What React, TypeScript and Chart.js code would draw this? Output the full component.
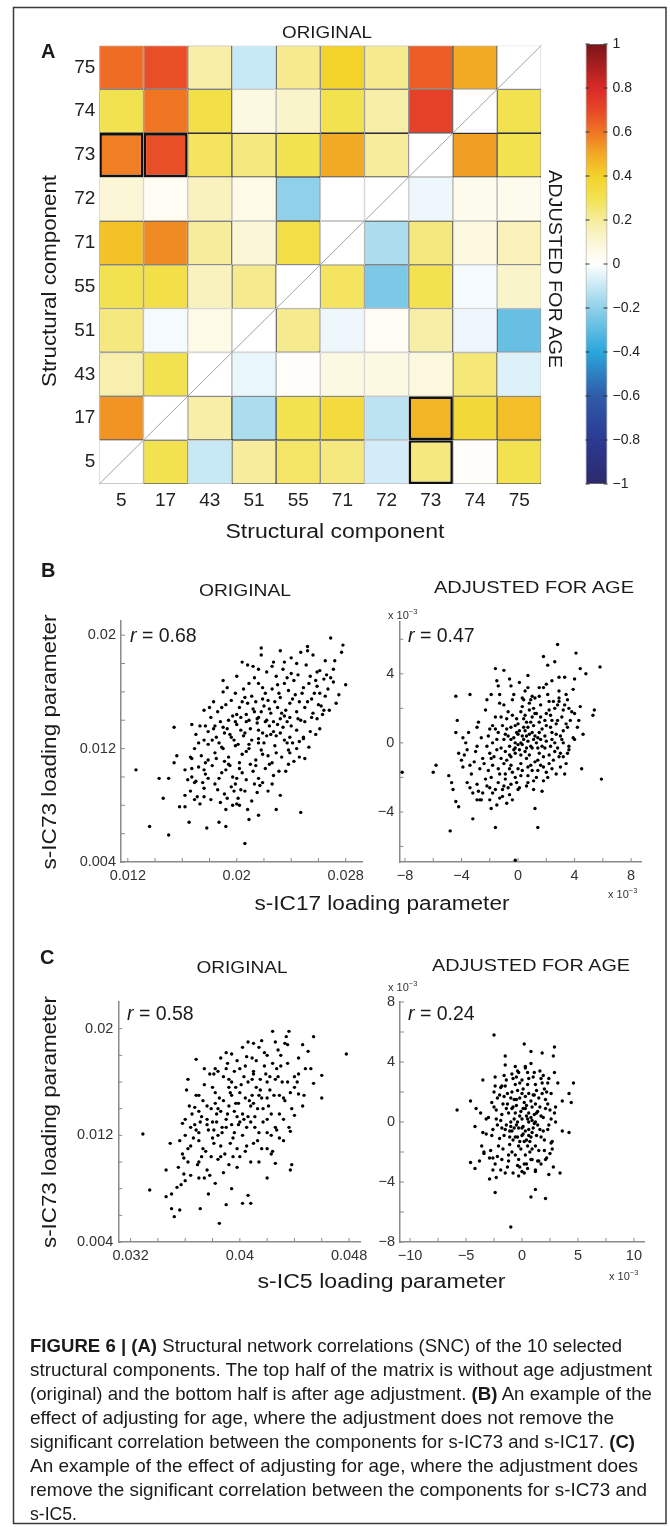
import React, { useEffect, useRef } from 'react';
import { Chart, registerables } from 'chart.js';

Chart.register(...registerables);
const FONT = '"Liberation Sans", Arial, Helvetica, sans-serif';
Chart.defaults.font.family = FONT;
Chart.defaults.color = '#222';

// ---------------- Panel A : correlation matrix ----------------
const colLabels = ['5', '17', '43', '51', '55', '71', '72', '73', '74', '75'];
const rowLabels = ['75', '74', '73', '72', '71', '55', '51', '43', '17', '5']; // top to bottom
const r75 = [0.62, 0.68, 0.18, -0.1, 0.22, 0.4, 0.22, 0.65, 0.5, null];
const r74 = [0.3, 0.6, 0.32, 0.07, 0.12, 0.3, 0.18, 0.72, null, 0.3];
const r73 = [0.58, 0.68, 0.28, 0.24, 0.3, 0.5, 0.2, null, 0.52, 0.3];
const r72 = [0.1, 0.03, 0.14, 0.06, -0.2, 0.0, null, -0.03, 0.05, 0.05];
const r71 = [0.44, 0.56, 0.2, 0.1, 0.32, null, -0.15, 0.24, 0.08, 0.15];
const r55 = [0.3, 0.32, 0.14, 0.22, null, 0.28, -0.24, 0.3, -0.02, 0.12];
const r51 = [0.24, -0.02, 0.06, null, 0.22, -0.03, 0.03, 0.18, -0.03, -0.28];
const r43 = [0.17, 0.3, null, -0.04, 0.01, 0.07, 0.07, 0.08, 0.25, -0.06];
const r17 = [0.54, null, 0.18, -0.15, 0.3, 0.35, -0.12, 0.47, 0.36, 0.45];
const r5 = [null, 0.3, -0.1, 0.2, 0.27, 0.24, -0.08, 0.24, 0.01, 0.3];
const corrRows = [r75, r74, r73, r72, r71, r55, r51, r43, r17, r5];
const highlighted = [['73', '5'], ['73', '17'], ['17', '73'], ['5', '73']];

const cbTickValues = [-1, -0.8, -0.6, -0.4, -0.2, 0, 0.2, 0.4, 0.6, 0.8, 1];
const cbTickLabels = ['−1', '−0.8', '−0.6', '−0.4', '−0.2', '0', '0.2', '0.4', '0.6', '0.8', '1'];
const cmapStops: [number, string][] = [
  [-1.0, '#2c2a6c'], [-0.8, '#2b3a92'], [-0.6, '#2f5ba9'], [-0.4, '#2ba6dc'], [-0.2, '#8fd1ea'],
  [0.0, '#ffffff'], [0.1, '#fbf6d6'], [0.2, '#f6ec9c'], [0.3, '#f3e250'], [0.4, '#f3d22a'],
  [0.5, '#f2a924'], [0.6, '#ef7523'], [0.7, '#e84628'], [0.8, '#d92a27'], [1.0, '#7a1519'],
];

// ---------------- Panel B : s-IC73 vs s-IC17 ----------------
// original values, in units of 1e-3
const bOrigPoints: [number, number][] = [
  [12.6, 10.5], [13.6, 6.5], [15.0, 5.9], [14.3, 9.9], [15.0, 9.9], [14.6, 8.5], [15.4, 13.5], [15.6, 11.5], [15.4, 11.0],
  [15.8, 7.9], [16.2, 7.9], [16.5, 6.8], [16.7, 13.7], [16.7, 11.3], [16.9, 8.4], [16.7, 10.6], [17.0, 9.7], [17.8, 6.4],
  [17.7, 13.6], [17.6, 12.6], [18.3, 13.4], [18.0, 14.9], [19.0, 16.8], [20.6, 5.3], [20.4, 18.1], [21.2, 17.8], [21.8, 19.1],
  [21.6, 7.3], [22.9, 7.7], [23.2, 8.7], [24.7, 7.5], [25.2, 18.9], [26.9, 19.8], [27.8, 19.3], [28.0, 16.5], [27.2, 18.2],
  [27.7, 18.8], [26.1, 13.4], [25.9, 14.1], [26.4, 14.7], [26.5, 15.7], [27.1, 16.7], [19.2, 7.7], [18.7, 6.8], [19.2, 6.5],
  [19.7, 8.0], [20.3, 9.1], [20.8, 7.7], [20.0, 8.1], [20.9, 7.0], [21.7, 9.4], [22.6, 9.5], [23.6, 10.4], [24.2, 11.1],
  [23.9, 11.7], [24.9, 12.8], [24.1, 12.4],
  [22.7, 18.1], [23.4, 17.6], [24.0, 18.4], [24.5, 17.2], [25.1, 17.9], [25.6, 18.6], [26.1, 17.5], [26.5, 18.2], [26.9, 17.0],
  [25.4, 17.1], [24.2, 16.8], [23.7, 17.0], [23.0, 16.5], [25.9, 16.4], [27.1, 17.6], [25.2, 19.2], [24.7, 18.8], [23.2, 18.9],
  [22.2, 17.4], [21.8, 18.6],
  [20.5, 16.2], [21.1, 15.7], [21.6, 16.6], [22.1, 15.9], [22.6, 16.2], [23.2, 15.6], [23.8, 16.1], [24.3, 15.8], [24.9, 16.3],
  [25.5, 15.5], [26.1, 15.9], [26.7, 16.2], [21.3, 17.0], [22.3, 15.4], [23.5, 16.6], [24.6, 15.3], [25.8, 16.8], [19.9, 15.9],
  [19.3, 16.3], [20.8, 15.2], [26.2, 15.0], [27.5, 15.8],
  [18.6, 14.6], [19.2, 15.1], [19.7, 14.3], [20.2, 14.9], [20.7, 14.4], [21.2, 14.8], [21.6, 14.2], [22.0, 15.0], [22.5, 14.5],
  [23.0, 14.9], [23.5, 14.3], [23.9, 15.2], [24.4, 14.6], [25.0, 14.9], [25.5, 14.2], [19.4, 14.0], [20.4, 15.3], [21.4, 15.3],
  [22.2, 14.0], [23.2, 14.1], [24.7, 14.0], [25.2, 15.3], [26.3, 14.4], [18.1, 14.2], [21.8, 14.6], [22.8, 15.3], [20.9, 14.0],
  [17.9, 13.2], [18.5, 12.8], [19.0, 13.5], [19.5, 13.0], [20.0, 13.7], [20.5, 12.9], [21.0, 13.4], [21.5, 13.8], [21.9, 13.1],
  [22.4, 13.6], [22.9, 12.9], [23.4, 13.5], [23.9, 12.8], [24.4, 13.3], [24.9, 12.7], [25.4, 13.2], [18.8, 13.9], [19.8, 12.6],
  [20.7, 13.9], [21.6, 12.7], [22.7, 13.2], [23.7, 13.9], [19.3, 13.4], [20.3, 13.3], [22.1, 13.9], [23.2, 13.1], [18.2, 12.6],
  [16.9, 12.0], [17.4, 11.5], [17.9, 12.3], [18.4, 11.7], [18.9, 12.1], [19.4, 11.4], [19.9, 12.2], [20.4, 11.6], [20.9, 12.3],
  [21.4, 11.2], [21.8, 11.9], [22.3, 11.5], [22.8, 12.2], [23.3, 11.4], [23.8, 11.9], [19.1, 11.1], [20.2, 11.0], [21.6, 12.4],
  [17.7, 11.0], [20.7, 11.8], [22.6, 11.0], [24.4, 12.0], [18.7, 12.4], [17.2, 12.4],
  [16.2, 10.5], [16.7, 10.0], [17.2, 10.7], [17.7, 10.2], [18.2, 10.8], [18.7, 9.9], [19.2, 10.5], [19.7, 10.0], [20.2, 10.6],
  [20.7, 9.8], [21.2, 10.4], [21.6, 9.9], [22.1, 10.6], [22.7, 10.1], [17.5, 9.6], [18.4, 9.5], [19.9, 9.5], [21.0, 10.9],
  [16.9, 9.6], [19.5, 10.8], [21.9, 9.6],
  [16.6, 9.0], [17.1, 8.6], [17.6, 9.2], [18.1, 8.4], [18.6, 9.1], [19.1, 8.8], [19.6, 9.3], [20.1, 8.5], [20.6, 9.0],
  [21.1, 8.3], [21.5, 8.9], [17.3, 8.1], [18.8, 8.2], [20.2, 8.0], [16.2, 8.7],
  [19.0, 12.0], [19.6, 12.8], [20.1, 12.3], [20.6, 13.1], [21.1, 12.6], [21.6, 13.3], [22.0, 12.4], [22.5, 13.0], [23.0, 13.7],
  [23.5, 12.6], [24.0, 13.6], [24.5, 14.1], [25.0, 13.9], [25.6, 14.5], [26.0, 15.1], [20.0, 14.4], [20.6, 15.6], [21.3, 14.6],
  [21.9, 15.5], [22.4, 14.8], [23.1, 15.9], [23.6, 14.7], [24.1, 15.5], [24.8, 15.9], [25.3, 16.6], [25.9, 17.4], [26.4, 16.9],
  [24.0, 17.3], [22.9, 17.1], [21.9, 16.3], [20.9, 16.6], [19.6, 15.4], [18.9, 14.9], [18.4, 13.6], [19.9, 13.9], [20.9, 12.0],
  [21.9, 11.6], [22.9, 11.7], [23.7, 12.4], [24.6, 12.5], [17.9, 11.2], [18.5, 11.3], [19.4, 10.9], [20.4, 10.3], [21.4, 10.8],
  [22.4, 10.9], [20.0, 9.9], [18.9, 10.3], [17.6, 10.5], [22.2, 12.9], [22.7, 13.9], [23.3, 14.5], [21.5, 14.1], [20.3, 14.2],
  [19.1, 13.1], [23.9, 14.2], [25.7, 15.9], [26.6, 17.2], [24.4, 18.0], [23.5, 18.1], [22.6, 17.8], [21.6, 17.6], [20.8, 17.9],
  [20.0, 17.1], [19.0, 16.0], [18.3, 15.3], [17.6, 14.7], [17.3, 13.6], [17.0, 13.0], [16.6, 11.4], [16.4, 9.8], [17.9, 9.9],
  [19.8, 9.0], [21.3, 9.5], [22.3, 9.0], [23.1, 10.4], [23.8, 10.9], [24.6, 11.4], [25.3, 12.1], [25.8, 13.0], [26.8, 14.7],
  [27.3, 15.2], [25.0, 11.3], [19.3, 8.5], [17.6, 8.6],
];
const bOrigXTicks = [0.012, 0.014, 0.016, 0.018, 0.02, 0.022, 0.024, 0.026, 0.028];
const bOrigXLabels = ['0.012', '', '', '', '0.02', '', '', '', '0.028'];
const bOrigYTicks = [0.004, 0.006, 0.008, 0.01, 0.012, 0.014, 0.016, 0.018, 0.02];
const bOrigYLabels = ['0.004', '', '', '', '0.012', '', '', '', '0.02'];

// adjusted for age, in units of 1e-3
const bAdjPoints: [number, number][] = [
  [-8.2, -1.7], [-5.8, -1.3], [-6.0, -1.7], [-4.8, -5.1], [-4.4, 2.7], [-4.3, 1.3], [-4.4, 0.6], [-4.9, -1.9], [-4.7, -2.3],
  [-4.6, -2.7], [-4.4, -3.4], [-4.2, -3.7], [-3.2, -4.4], [-1.6, -4.9], [-1.6, 4.3], [-1.0, 4.2], [-0.6, 3.7], [0.7, 3.9],
  [1.4, -4.9], [1.2, -3.8], [1.8, 5.0], [2.1, 4.5], [2.6, 4.7], [2.8, 5.7], [4.1, 5.2], [4.4, 4.3], [4.8, 4.0], [5.8, 4.4],
  [5.9, -2.1], [4.5, -1.5], [5.3, 1.6], [5.4, 1.9], [4.6, 0.5], [3.9, 3.1], [4.0, 3.7], [3.3, 3.8], [2.9, 3.8], [-0.2, -6.8],
  [-3.4, 2.8], [-2.2, 2.5], [-1.9, 2.8], [-1.5, 3.6], [-1.3, 2.8], [-2.9, 0.9], [-3.7, 0.0], [-3.6, -0.4], [-3.9, -1.4],
  [-2.8, -2.8], [-2.6, -3.3], [-1.9, -3.8], [-1.3, -3.2], [-0.8, -3.5], [-0.4, -3.3], [0.1, -2.6], [1.1, -2.7], [1.7, -2.8],
  [2.7, -1.8], [3.4, -1.2], [-1.4, 3.3], [-0.5, 3.3], [0.1, 3.5], [0.7, 3.2], [1.5, 3.2], [2.0, 3.4], [2.4, 3.6], [2.9, 2.4],
  [3.5, 2.5], [4.4, 2.1], [4.0, 1.7], [-3.4, -2.6], [-2.9, -3.3], [-2.2, -2.5], [-1.8, -2.9], [-1.1, -2.7], [-0.5, -2.4],
  [0.7, -2.3], [1.8, -2.2], [2.4, -1.5], [2.9, -0.8], [3.6, -0.4], [3.2, 0.0], [3.9, 0.3], [4.2, 0.9], [3.4, 1.1],
  [-3.0, -0.5], [-2.6, 0.3], [-2.4, -1.2], [-2.2, -0.2], [-2.0, 0.8], [-1.9, -2.0], [-1.7, -0.8], [-1.6, 1.5], [-1.5, 0.2],
  [-1.4, -1.5], [-1.2, -0.3], [-1.1, 1.0], [-1.0, -2.5], [-0.9, 0.5], [-0.8, -1.0], [-0.7, 1.8], [-0.6, -0.2], [-0.5, 0.9],
  [-0.4, -1.7], [-0.3, 0.3], [-0.2, -0.6], [-0.1, 1.4], [0.0, -0.1], [0.1, 0.7], [0.2, -1.2], [0.3, 2.1], [0.4, 0.2],
  [0.5, -0.5], [0.6, 1.2], [0.7, -1.9], [0.8, 0.5], [0.9, 2.5], [1.0, -0.3], [1.1, 1.0], [1.2, -1.1], [1.3, 1.7], [1.4, 0.3],
  [1.5, -0.6], [1.6, 2.2], [1.7, 0.8], [1.8, -1.4], [1.9, 1.3], [2.0, 0.1], [2.1, 2.8], [2.2, -0.7], [2.3, 1.6], [2.4, 0.6],
  [2.5, -1.0], [2.6, 2.0], [2.7, 1.1], [2.8, -0.3], [2.9, 2.6], [3.0, 0.4], [3.1, 1.5], [3.2, -0.8], [3.3, 2.2], [3.5, 0.9],
  [3.6, -0.2], [3.8, 1.8], [4.0, 0.2],
  [-3.3, -1.8], [-2.9, -2.4], [-2.8, 1.2], [-2.5, -2.9], [-2.3, 1.9], [-2.1, -1.6], [-1.8, 0.0], [-1.6, -2.7], [-1.3, 2.3],
  [-1.2, -0.9], [-0.9, -2.1], [-0.8, 1.4], [-0.6, -3.0], [-0.5, -0.8], [-0.4, 2.5], [-0.2, 0.0], [-0.1, -2.3], [0.1, -0.4],
  [0.2, 1.8], [0.3, -1.6], [0.4, 0.9], [0.5, 3.0], [0.6, -0.9], [0.7, 0.1], [0.8, 1.9], [0.9, -1.3], [1.0, 0.6], [1.1, -2.2],
  [1.2, 2.6], [1.3, 0.0], [1.4, -1.6], [1.5, 1.2], [1.7, -0.2], [1.8, 3.2], [1.9, 0.4], [2.0, -1.7], [2.2, 1.9], [2.3, -0.2],
  [2.5, 2.4], [2.6, 0.0], [2.8, 1.3], [3.0, -1.4], [3.2, 0.7], [3.4, 2.8], [3.5, -0.6], [3.7, 1.3], [-3.5, 0.6], [-3.8, -0.7],
  [-3.2, -2.9], [-2.7, -3.3], [-2.0, -3.3], [-1.5, -3.6], [-1.1, -3.1], [-3.6, -2.3], [-4.0, -1.0], [-3.9, 0.3],
  [-0.7, 0.4], [-0.3, -0.4], [0.0, 0.5], [0.3, -0.1], [0.6, 0.4], [0.9, -0.2], [1.2, 0.4], [-1.0, 0.2], [-0.5, -1.3],
  [0.2, -0.7], [0.5, 1.6], [1.0, 1.5], [1.6, 0.2], [-1.4, 0.6], [-0.2, 1.0], [0.8, -0.7], [1.4, -0.3], [-0.9, -0.5],
  [0.0, -1.5], [0.4, 2.5], [1.1, 2.0], [2.0, 1.0], [-2.0, -0.6], [-1.8, -1.3], [2.4, 0.2], [0.7, -1.4],
  [-2.5, -0.9], [-2.1, 0.4], [-1.8, 1.0], [-1.5, -0.4], [-1.3, -1.8], [-1.0, -1.2], [-0.8, 0.8], [-0.6, -1.5], [-0.4, 1.6],
  [-0.2, -2.0], [0.0, 1.1], [0.2, -1.9], [0.4, 1.4], [0.6, -0.3], [0.8, 2.3], [1.0, -1.6], [1.2, 1.7], [1.4, -1.0], [1.6, 1.5],
  [1.8, -0.8], [2.0, 1.7], [2.2, -1.2], [2.4, 1.3], [2.6, -0.5], [2.8, 2.2], [3.0, -0.6], [3.2, 1.9], [-2.7, -1.5], [-2.3, -2.1],
  [-1.9, -0.9], [-1.6, 0.8], [-1.2, 1.5], [-0.9, -1.8], [-0.5, 0.2], [-0.1, 0.6], [0.3, 0.4], [0.7, 0.9], [1.1, 0.2], [1.5, 0.6],
  [1.9, -0.3], [2.3, 0.9], [2.7, 0.5], [3.1, 0.2], [-3.1, -1.1], [-2.9, -0.2], [-2.0, -2.6], [-1.4, -2.3], [-0.7, -2.6],
  [0.0, -2.7], [0.6, -2.5], [1.3, -2.0], [2.1, -2.0], [-1.0, 2.2], [-0.3, 2.8], [0.3, 2.6], [1.0, 2.7], [1.5, 2.7], [2.2, 2.4],
  [2.9, 3.0], [3.6, 2.0], [3.3, -1.8], [4.3, 1.3], [-4.2, -0.6], [-3.4, -1.3], [0.2, 0.0], [-0.2, -0.3], [0.5, 0.7],
  [-0.6, -0.7], [0.9, 1.2], [1.6, -1.3],
];
const bAdjXTicks = [-8, -6, -4, -2, 0, 2, 4, 6, 8];
const bAdjXLabels = ['−8', '', '−4', '', '0', '', '4', '', '8'];
const bAdjYTicks = [-6, -4, -2, 0, 2, 4, 6];
const bAdjYLabels = ['', '−4', '', '0', '', '4', ''];

// ---------------- Panel C : s-IC73 vs s-IC5 ----------------
// original values, in units of 1e-3
const cOrigPoints: [number, number][] = [
  [32.9, 12.1], [33.4, 7.9], [34.6, 9.4], [34.9, 11.4], [34.6, 7.4], [35.0, 7.6], [35.2, 5.9], [35.6, 6.4], [35.0, 6.5],
  [35.4, 8.1], [35.7, 8.3], [35.9, 9.1], [35.9, 10.3], [36.1, 15.4], [36.7, 14.1], [36.8, 17.7], [37.0, 13.8], [37.1, 6.5],
  [37.4, 8.8], [37.7, 7.6], [38.5, 5.4], [39.0, 6.8], [39.4, 8.0], [40.6, 7.5], [40.2, 6.9], [40.8, 6.9], [38.1, 16.6],
  [38.4, 16.8], [39.1, 17.4], [39.4, 18.1], [40.5, 17.9], [41.0, 18.9], [41.6, 19.1], [42.4, 19.8], [43.3, 18.9], [43.5, 18.8],
  [45.4, 19.4], [45.0, 18.3], [46.0, 16.5], [46.0, 14.8], [45.4, 15.9], [47.8, 18.1], [43.7, 12.3], [44.0, 13.5], [43.8, 9.8],
  [43.7, 9.4], [42.6, 9.9], [42.0, 8.8], [42.3, 10.6], [42.9, 11.8], [42.6, 12.6], [44.3, 15.1], [44.7, 15.0], [44.3, 16.6],
  [44.0, 15.6],
  [36.0, 12.0], [36.4, 11.2], [36.7, 12.8], [37.0, 11.6], [37.2, 13.4], [37.5, 10.8], [37.7, 12.4], [37.9, 14.0], [38.1, 11.4],
  [38.3, 13.0], [38.5, 14.8], [38.7, 12.2], [38.9, 10.6], [39.1, 13.6], [39.3, 15.2], [39.5, 11.8], [39.7, 14.4], [39.9, 12.8],
  [40.1, 15.8], [40.3, 13.2], [40.5, 11.2], [40.7, 14.6], [40.9, 16.2], [41.1, 12.6], [41.3, 14.0], [41.5, 15.4], [41.7, 13.0],
  [41.9, 16.6], [42.1, 14.2], [42.3, 12.0], [42.5, 15.0], [42.7, 17.0], [42.9, 13.6], [43.1, 16.0], [43.3, 14.6], [43.5, 17.4],
  [43.7, 15.2], [44.0, 16.4], [44.3, 17.8], [44.6, 14.2],
  [36.2, 10.0], [36.5, 13.6], [36.9, 9.8], [37.3, 14.6], [37.6, 9.4], [38.0, 15.6], [38.4, 10.2], [38.8, 16.4], [39.2, 9.8],
  [39.6, 16.8], [40.0, 10.4], [40.4, 17.2], [40.8, 10.0], [41.2, 17.6], [41.6, 11.0], [42.0, 18.0], [42.4, 10.8], [42.8, 18.4],
  [43.2, 11.6], [43.6, 12.6],
  [35.6, 11.6], [35.8, 12.9], [36.3, 14.2], [36.8, 15.0], [37.4, 15.8], [37.8, 16.6], [38.2, 17.0], [38.6, 17.8], [39.0, 18.2],
  [39.4, 16.0], [39.8, 17.6], [40.2, 18.6], [40.6, 19.0], [41.0, 16.8], [41.4, 18.6], [41.8, 17.2], [42.2, 16.4], [42.6, 19.0],
  [43.0, 18.0], [43.4, 19.4],
  [38.0, 13.0], [38.6, 13.8], [39.2, 14.2], [39.8, 13.4], [40.4, 14.8], [41.0, 14.4], [41.6, 14.8], [38.4, 12.0], [39.0, 12.6],
  [39.6, 12.2], [40.2, 12.0], [40.8, 13.0], [41.4, 12.2], [42.0, 13.2], [37.0, 12.2], [37.6, 13.2], [38.2, 14.4], [39.4, 15.0],
  [40.0, 15.2], [40.6, 16.0], [41.2, 15.6], [42.2, 15.4], [42.8, 16.4], [37.2, 10.4], [38.6, 11.2], [39.8, 11.0], [41.0, 11.4],
  [36.6, 11.8], [35.8, 10.6], [36.4, 9.0], [37.0, 8.8], [37.8, 9.0], [38.8, 9.2],
  [36.8, 12.4], [37.3, 11.0], [37.6, 12.8], [38.0, 11.8], [38.3, 13.6], [38.7, 12.6], [39.0, 13.2], [39.3, 11.4], [39.6, 13.8],
  [39.9, 14.4], [40.2, 13.6], [40.5, 12.6], [40.8, 14.2], [41.1, 13.4], [41.4, 15.0], [41.7, 14.0], [42.0, 14.8], [42.3, 13.6],
  [42.6, 16.2], [42.9, 15.0], [43.2, 13.2], [43.5, 16.0], [38.2, 15.2], [38.8, 14.6], [39.2, 16.2], [39.7, 15.6], [40.3, 16.4],
  [40.9, 15.0], [41.5, 16.2], [42.0, 16.0], [42.4, 17.4], [43.0, 17.2], [41.8, 18.2], [40.9, 17.8], [40.0, 17.0], [39.2, 15.6],
  [38.4, 14.0], [37.6, 14.2], [37.1, 13.0], [36.4, 12.6], [36.0, 13.2], [37.9, 10.4], [38.6, 10.4], [39.5, 10.4], [40.4, 10.8],
  [41.3, 11.6], [42.0, 11.0], [42.7, 12.4], [43.2, 14.8], [43.8, 14.0], [44.2, 16.0], [44.8, 17.0], [40.6, 13.4], [39.4, 12.8],
  [38.1, 12.4], [37.0, 10.0], [36.2, 11.0], [35.5, 9.6], [36.0, 8.6], [38.2, 8.4], [39.8, 9.6], [41.4, 10.0], [42.0, 12.2],
  [40.0, 13.0], [41.0, 16.6], [39.0, 17.0], [37.0, 15.0], [36.2, 16.2], [37.4, 17.0], [43.6, 19.8], [44.6, 18.8], [45.2, 17.0],
];
const cOrigXTicks = [0.032, 0.034, 0.036, 0.038, 0.04, 0.042, 0.044, 0.046, 0.048];
const cOrigXLabels = ['0.032', '', '', '', '0.04', '', '', '', '0.048'];
const cOrigYTicks = [0.004, 0.006, 0.008, 0.01, 0.012, 0.014, 0.016, 0.018, 0.02];
const cOrigYLabels = ['0.004', '', '', '', '0.012', '', '', '', '0.02'];

// adjusted for age, in units of 1e-3
const cAdjPoints: [number, number][] = [
  [-5.8, 0.8], [-2.5, 5.8], [-3.5, 2.8], [-2.4, 3.0], [-2.4, 2.4], [-4.6, 1.4], [-4.1, 0.9], [-4.2, -0.3], [-4.6, -2.7],
  [-4.2, -3.1], [-2.9, -3.8], [-2.3, -3.7], [-2.4, -4.7], [-1.5, 4.4], [-1.5, 3.8], [0.2, 5.2], [0.8, 4.7], [1.8, 4.6],
  [2.9, 5.0], [2.8, 4.4], [2.9, 3.3], [3.2, 2.6], [4.2, 1.9], [4.4, 1.3], [4.6, 2.6], [3.6, 1.4], [3.6, -0.6], [4.2, -0.7],
  [2.4, -3.5], [3.4, -3.4], [2.8, -3.0], [0.8, -5.0], [1.2, -4.5], [2.1, -5.1], [-1.0, -7.0], [-0.3, -3.6], [-1.5, -3.4],
  [-3.7, 0.6], [-3.2, 0.2], [-3.5, -0.7], [-3.6, -1.6], [-3.4, -2.1], [-2.9, -2.4], [-3.8, -2.6], [-2.6, -3.2], [-2.2, 1.6],
  [-1.9, 2.3], [-0.9, 3.2], [-0.4, 3.4], [0.3, 3.7], [1.1, 3.3], [1.7, 2.9], [2.3, 2.6], [2.6, 1.9], [2.9, 0.6], [3.0, 0.0],
  [2.6, -1.4], [2.7, -1.8], [2.1, -2.5], [1.2, -3.3], [0.2, -3.4], [0.8, -2.5],
  [-2.6, -0.5], [-2.3, 0.8], [-2.1, -1.6], [-2.0, 1.8], [-1.9, 0.1], [-1.8, -2.5], [-1.7, 1.2], [-1.6, -0.9], [-1.5, 2.4],
  [-1.4, -0.2], [-1.3, -3.0], [-1.2, 0.6], [-1.1, -1.5], [-1.0, 1.6], [-0.9, -0.6], [-0.8, 2.9], [-0.7, 0.2], [-0.6, -2.2],
  [-0.5, 1.1], [-0.4, -1.0], [-0.3, 3.3], [-0.2, 0.4], [-0.1, -1.8], [0.0, 1.9], [0.1, -0.3], [0.2, -2.8], [0.3, 0.9],
  [0.4, -1.2], [0.5, 2.5], [0.6, 0.0], [0.7, -2.0], [0.8, 1.4], [0.9, -0.7], [1.0, 3.0], [1.1, 0.5], [1.2, -1.6], [1.3, 2.1],
  [1.4, -0.2], [1.5, -2.6], [1.6, 1.0], [1.7, -1.0], [1.8, 2.6], [1.9, 0.3], [2.0, -1.9], [2.1, 1.5], [2.3, -0.5], [2.5, 0.8],
  [2.7, -1.3],
  [-2.8, -1.9], [-2.5, 2.0], [-2.4, -2.8], [-2.2, -0.2], [-1.9, -3.2], [-1.6, 3.1], [-1.3, 1.9], [-1.2, -2.2], [-0.9, 0.9],
  [-0.8, -3.4], [-0.6, 3.7], [-0.4, -2.9], [-0.2, 2.6], [0.0, -3.3], [0.1, 0.9], [0.3, 3.6], [0.5, -3.1], [0.6, -0.9],
  [0.8, 3.9], [0.9, -2.5], [1.1, 1.8], [1.2, -3.2], [1.4, 0.7], [1.6, 3.4], [1.7, -2.8], [2.0, 2.2], [2.2, -2.4], [2.4, 2.9],
  [2.6, 0.2], [3.0, 1.0], [-3.0, 0.3], [-3.2, -0.8], [-3.4, -2.0], [-2.7, 1.3],
  [-1.0, 0.0], [-0.6, 0.6], [-0.3, -0.4], [0.0, 0.2], [0.3, -0.6], [0.6, 0.6], [0.9, 0.1], [-0.8, -1.2], [-0.5, -0.2],
  [0.2, 1.3], [0.5, -1.6], [1.0, -0.4], [-1.4, 0.9], [-0.2, -1.3], [0.4, 0.4], [1.3, 0.6], [-0.7, 1.5], [0.1, 2.2],
  [0.8, -1.0], [-1.1, -0.6], [1.6, -0.5], [-1.8, -0.4], [0.0, -0.9], [0.6, 1.9], [-0.4, 2.1], [1.2, 1.2],
  [-1.8, 0.5], [-1.5, -0.5], [-1.3, 1.2], [-1.1, -1.0], [-0.9, 2.0], [-0.7, -0.4], [-0.5, 1.5], [-0.3, -1.6], [-0.1, 0.7],
  [0.1, -0.8], [0.3, 1.7], [0.5, 0.2], [0.7, -1.3], [0.9, 1.0], [1.1, -0.1], [1.3, -0.9], [1.5, 1.6], [1.7, 0.4], [1.9, -0.6],
  [2.1, 0.9], [-2.0, -1.1], [-1.7, -1.8], [-1.4, 2.8], [-1.2, -2.6], [-0.9, -2.0], [-0.6, 2.5], [-0.3, -2.5], [0.0, 2.8],
  [0.3, -2.2], [0.6, 2.9], [0.9, -1.8], [1.2, 2.5], [1.5, -1.9], [1.8, 1.9], [2.0, -1.2], [2.3, 1.2], [2.4, -0.2], [-2.3, 0.2],
  [-2.5, 1.0], [-2.2, -2.3], [-0.8, 1.0], [-0.4, 0.0], [0.0, -0.4], [0.4, 1.1], [0.8, 0.3], [1.2, 0.0], [-1.0, -0.3],
  [-0.2, 1.6], [0.2, -1.3], [0.6, -0.5], [-0.6, -1.0], [1.0, 1.8], [-1.6, 1.7], [1.4, -2.6], [-0.5, 3.0], [0.5, 3.3], [1.9, 3.1],
  [-1.8, 2.4], [2.2, 2.0], [-2.7, -0.9], [-2.6, -2.4], [2.5, -2.1], [-0.2, -3.0], [0.4, -2.8],
];
const cAdjXTicks = [-10, -7.5, -5, -2.5, 0, 2.5, 5, 7.5, 10];
const cAdjXLabels = ['−10', '', '−5', '', '0', '', '5', '', '10'];
const cAdjYTicks = [-8, -6, -4, -2, 0, 2, 4, 6, 8];
const cAdjYLabels = ['−8', '', '−4', '', '0', '', '4', '', '8'];

// ---------------- helpers ----------------
function hexToRgb(h: string) {
  const n = parseInt(h.slice(1), 16);
  return [(n >> 16) & 255, (n >> 8) & 255, n & 255];
}
function cmap(v: number) {
  const s = cmapStops;
  if (v <= s[0][0]) return s[0][1];
  for (let i = 1; i < s.length; i++) {
    if (v <= s[i][0]) {
      const t = (v - s[i - 1][0]) / (s[i][0] - s[i - 1][0]);
      const a = hexToRgb(s[i - 1][1]);
      const b = hexToRgb(s[i][1]);
      const c = a.map((x, k) => Math.round(x + (b[k] - x) * t));
      return `rgb(${c[0]},${c[1]},${c[2]})`;
    }
  }
  return s[s.length - 1][1];
}
const isHi = (r: string, c: string) => highlighted.some(([a, b]) => a === r && b === c);

const inTicksPlugin: any = {
  id: 'inTicks',
  afterDraw(chart: any, _a: any, opts: any) {
    if (!opts || !opts.enabled) return;
    const { ctx, chartArea: a, scales } = chart;
    ctx.save();
    ctx.strokeStyle = opts.color;
    ctx.lineWidth = opts.width;
    const len = opts.len;
    if (opts.x && scales.x) {
      scales.x.ticks.forEach((t: any) => {
        const p = scales.x.getPixelForValue(t.value);
        ctx.beginPath();
        ctx.moveTo(p, a.bottom);
        ctx.lineTo(p, a.bottom - len);
        ctx.stroke();
      });
    }
    if (opts.y && scales.y) {
      scales.y.ticks.forEach((t: any) => {
        const p = scales.y.getPixelForValue(t.value);
        ctx.beginPath();
        ctx.moveTo(a.left, p);
        ctx.lineTo(a.left + len, p);
        ctx.stroke();
        if (opts.both) {
          ctx.beginPath();
          ctx.moveTo(a.right, p);
          ctx.lineTo(a.right - len, p);
          ctx.stroke();
        }
      });
    }
    ctx.restore();
  },
};

const diagPlugin: any = {
  id: 'diag',
  afterDatasetsDraw(chart: any) {
    const { ctx, scales } = chart;
    const x = scales.x;
    const y = scales.y;
    ctx.save();
    ctx.strokeStyle = '#a3a3a3';
    ctx.lineWidth = 1;
    ctx.beginPath();
    ctx.moveTo(x.left, y.getPixelForValue(0));
    ctx.lineTo(x.right, y.getPixelForValue(10));
    ctx.stroke();
    ctx.restore();
  },
};

function heatConfig(): any {
  const rowsBU = [...rowLabels].reverse();
  const valsBU = [...corrRows].reverse();
  return {
    type: 'bar',
    data: {
      labels: colLabels,
      datasets: rowsBU.map((rn, i) => ({
        label: rn,
        data: valsBU[i].map(() => 1),
        backgroundColor: valsBU[i].map((v) => (v === null ? '#ffffff' : cmap(v as number))),
        borderColor: valsBU[i].map((v, j) =>
          isHi(rn, colLabels[j]) ? '#111111' : v !== null && Math.abs(v as number) >= 0.15 ? '#2e2e2e' : '#a5a5a5'
        ),
        borderWidth: valsBU[i].map((_v, j) => (isHi(rn, colLabels[j]) ? 2.6 : 0.8)),
        borderSkipped: false,
        barPercentage: 1,
        categoryPercentage: 1,
        inflateAmount: 0,
        stack: 'm',
      })),
    },
    options: {
      responsive: false,
      animation: false,
      events: [],
      layout: { padding: { left: 0, top: 14, right: 13.7, bottom: 0 } },
      plugins: { legend: { display: false }, tooltip: { enabled: false } },
      scales: {
        x: {
          stacked: true,
          grid: { display: false, drawTicks: false },
          border: { display: false },
          ticks: { font: { size: 19 }, color: '#222', padding: 5, maxRotation: 0, autoSkip: false },
          afterFit: (s: any) => { s.height = 36; },
        },
        y: {
          stacked: true,
          min: 0,
          max: 10,
          afterBuildTicks: (s: any) => { s.ticks = rowsBU.map((_r, i) => ({ value: i + 0.5 })); },
          grid: { display: false, drawTicks: false },
          border: { display: false },
          ticks: { font: { size: 19 }, color: '#222', padding: 4, autoSkip: false, callback: (_v: any, i: number) => rowsBU[i] },
          afterFit: (s: any) => { s.width = 89.3; },
        },
      },
    },
    plugins: [diagPlugin],
  };
}

function colorbarConfig(): any {
  return {
    type: 'bar',
    data: {
      labels: [''],
      datasets: [{
        data: [[-1, 1]],
        backgroundColor: (c: any) => {
          const ch = c.chart;
          if (!ch.chartArea) return '#fff';
          const ys = ch.scales.y;
          const g = ch.ctx.createLinearGradient(0, ys.getPixelForValue(-1), 0, ys.getPixelForValue(1));
          cmapStops.forEach(([v, col]) => g.addColorStop((v + 1) / 2, col));
          return g;
        },
        borderColor: '#666',
        borderWidth: 1,
        borderSkipped: false,
        barPercentage: 1,
        categoryPercentage: 1,
        inflateAmount: 0,
      }],
    },
    options: {
      responsive: false,
      animation: false,
      events: [],
      layout: { padding: { left: 15.5, top: 14, right: 0, bottom: 16 } },
      plugins: {
        legend: { display: false }, tooltip: { enabled: false },
        inTicks: { enabled: true, y: true, both: true, len: 4, color: '#333', width: 1 },
      },
      scales: {
        x: { display: false },
        y: {
          position: 'right',
          min: -1,
          max: 1,
          afterBuildTicks: (s: any) => { s.ticks = cbTickValues.map((v) => ({ value: v })); },
          grid: { display: false, drawTicks: false },
          border: { display: false },
          ticks: { font: { size: 14 }, color: '#222', padding: 5, autoSkip: false, callback: (_v: any, i: number) => cbTickLabels[i] },
          afterFit: (s: any) => { s.width = 52.5; },
        },
      },
    },
    plugins: [inTicksPlugin],
  };
}

function scatterConfig(p: any): any {
  return {
    type: 'scatter',
    data: {
      datasets: [{
        data: p.pts.map(([x, y]: [number, number]) => ({ x: x * p.unit, y: y * p.unit })),
        pointRadius: 1.7,
        pointBackgroundColor: '#000',
        pointBorderWidth: 0,
        pointHoverRadius: 0,
      }],
    },
    options: {
      responsive: false,
      animation: false,
      events: [],
      layout: { padding: { left: 0, top: p.padTop, right: p.padRight, bottom: 0 } },
      plugins: {
        legend: { display: false }, tooltip: { enabled: false },
        inTicks: { enabled: true, x: true, y: true, len: 4, color: '#8a8a8a', width: 1 },
      },
      scales: {
        x: {
          type: 'linear',
          min: p.xMin,
          max: p.xMax,
          afterBuildTicks: (s: any) => { s.ticks = p.xTicks.map((v: number) => ({ value: v })); },
          grid: { display: false, drawTicks: false },
          border: { display: true, color: '#8a8a8a', width: 1.5 },
          ticks: { font: { size: 14.5 }, color: '#333', padding: 5, maxRotation: 0, autoSkip: false, callback: (_v: any, i: number) => p.xLabels[i] },
          afterFit: (s: any) => { s.height = p.xAxisH; },
        },
        y: {
          type: 'linear',
          min: p.yMin,
          max: p.yMax,
          afterBuildTicks: (s: any) => { s.ticks = p.yTicks.map((v: number) => ({ value: v })); },
          grid: { display: false, drawTicks: false },
          border: { display: true, color: '#8a8a8a', width: 1.5 },
          ticks: { font: { size: 14.5 }, color: '#333', padding: 5, autoSkip: false, callback: (_v: any, i: number) => p.yLabels[i] },
          afterFit: (s: any) => { s.width = p.yAxisW; },
        },
      },
    },
    plugins: [inTicksPlugin],
  };
}

function ChartBox({ make, left, top, width, height }: any) {
  const ref = useRef<HTMLCanvasElement>(null);
  useEffect(() => {
    const c = new Chart(ref.current as HTMLCanvasElement, make());
    return () => c.destroy();
  }, []);
  return (
    <canvas
      ref={ref}
      width={width}
      height={height}
      style={{ position: 'absolute', left, top, width, height }}
    />
  );
}

const T = (props: any) => <text fontFamily={FONT} fill="#1a1a1a" {...props} />;

function XTen({ x, y }: { x: number; y: number }) {
  return (
    <text x={x} y={y} fontFamily={FONT} fontSize={11} fill="#333">
      x 10<tspan dy={-5} fontSize={7.5}>−3</tspan>
    </text>
  );
}

export default function App() {
  return (
    <div style={{ position: 'absolute', left: 0, top: 0, width: 670, height: 1527, background: '#fff' }}>
      <ChartBox make={heatConfig} left={10} top={30} width={545} height={490} />
      <ChartBox make={colorbarConfig} left={570} top={30} width={90} height={470} />
      <ChartBox
        make={() => scatterConfig({
          pts: bOrigPoints, unit: 0.001, xMin: 0.0115, xMax: 0.0292, yMin: 0.004, yMax: 0.021,
          xTicks: bOrigXTicks, xLabels: bOrigXLabels, yTicks: bOrigYTicks, yLabels: bOrigYLabels,
          yAxisW: 81, xAxisH: 40, padTop: 15, padRight: 15,
        })}
        left={40} top={606} width={337} height={296}
      />
      <ChartBox
        make={() => scatterConfig({
          pts: bAdjPoints, unit: 1, xMin: -8.4, xMax: 8.7, yMin: -6.9, yMax: 7.0,
          xTicks: bAdjXTicks, xLabels: bAdjXLabels, yTicks: bAdjYTicks, yLabels: bAdjYLabels,
          yAxisW: 69.3, xAxisH: 40, padTop: 15, padRight: 15,
        })}
        left={330} top={607} width={326} height={295}
      />
      <ChartBox
        make={() => scatterConfig({
          pts: cOrigPoints, unit: 0.001, xMin: 0.0311, xMax: 0.0488, yMin: 0.004, yMax: 0.022,
          xTicks: cOrigXTicks, xLabels: cOrigXLabels, yTicks: cOrigYTicks, yLabels: cOrigYLabels,
          yAxisW: 78.3, xAxisH: 40, padTop: 15, padRight: 15,
        })}
        left={40} top={987} width={335} height={295}
      />
      <ChartBox
        make={() => scatterConfig({
          pts: cAdjPoints, unit: 1, xMin: -10.9, xMax: 10.9, yMin: -8, yMax: 8,
          xTicks: cAdjXTicks, xLabels: cAdjXLabels, yTicks: cAdjYTicks, yLabels: cAdjYLabels,
          yAxisW: 70, xAxisH: 40, padTop: 15, padRight: 15,
        })}
        left={330} top={987} width={329} height={295}
      />
      <svg width={670} height={1527} style={{ position: 'absolute', left: 0, top: 0, pointerEvents: 'none' }}>
        <rect x={13.5} y={7.5} width={652.5} height={1516} fill="none" stroke="#3a3a3a" strokeWidth={1.5} />
        {/* Panel A */}
        <T x={41} y={58} fontSize={20} fontWeight="bold">A</T>
        <T x={327} y={38} fontSize={17} textAnchor="middle" textLength={90} lengthAdjust="spacingAndGlyphs">ORIGINAL</T>
        <T x={335} y={538} fontSize={20} textAnchor="middle" textLength={219} lengthAdjust="spacingAndGlyphs">Structural component</T>
        <T x={0} y={0} fontSize={20} textAnchor="middle" textLength={212} lengthAdjust="spacingAndGlyphs" transform="translate(56,281) rotate(-90)">Structural component</T>
        <T x={0} y={0} fontSize={19} textAnchor="middle" textLength={198} lengthAdjust="spacingAndGlyphs" transform="translate(549,269) rotate(90)">ADJUSTED FOR AGE</T>
        {/* Panel B */}
        <T x={41} y={577} fontSize={20} fontWeight="bold">B</T>
        <T x={245} y={596} fontSize={17} textAnchor="middle" textLength={92} lengthAdjust="spacingAndGlyphs">ORIGINAL</T>
        <T x={534} y={593} fontSize={17} textAnchor="middle" textLength={200} lengthAdjust="spacingAndGlyphs">ADJUSTED FOR AGE</T>
        <T x={130} y={642} fontSize={19.5}><tspan fontStyle="italic">r</tspan> = 0.68</T>
        <T x={408} y={642} fontSize={19.5}><tspan fontStyle="italic">r</tspan> = 0.47</T>
        <T x={0} y={0} fontSize={20} textAnchor="middle" textLength={255} lengthAdjust="spacingAndGlyphs" transform="translate(56,742) rotate(-90)">s-IC73 loading parameter</T>
        <T x={382} y={910} fontSize={20} textAnchor="middle" textLength={255} lengthAdjust="spacingAndGlyphs">s-IC17 loading parameter</T>
        <XTen x={388} y={619} />
        <XTen x={608} y={898} />
        {/* Panel C */}
        <T x={40} y={964} fontSize={20} fontWeight="bold">C</T>
        <T x={242} y={973} fontSize={17} textAnchor="middle" textLength={91} lengthAdjust="spacingAndGlyphs">ORIGINAL</T>
        <T x={531} y={971} fontSize={17} textAnchor="middle" textLength={198} lengthAdjust="spacingAndGlyphs">ADJUSTED FOR AGE</T>
        <T x={127} y={1020} fontSize={19.5}><tspan fontStyle="italic">r</tspan> = 0.58</T>
        <T x={408} y={1020} fontSize={19.5}><tspan fontStyle="italic">r</tspan> = 0.24</T>
        <T x={0} y={0} fontSize={20} textAnchor="middle" textLength={252} lengthAdjust="spacingAndGlyphs" transform="translate(56,1122) rotate(-90)">s-IC73 loading parameter</T>
        <T x={381.5} y={1288} fontSize={20} textAnchor="middle" textLength={248} lengthAdjust="spacingAndGlyphs">s-IC5 loading parameter</T>
        <XTen x={388} y={991} />
        <XTen x={609} y={1280} />
        {/* Caption */}
        <T x={30} y={1352} fontSize={19} textLength={592} lengthAdjust="spacingAndGlyphs"><tspan fontWeight="bold">FIGURE 6 | (A)</tspan> Structural network correlations (SNC) of the 10 selected</T>
        <T x={30} y={1376} fontSize={19} textLength={622} lengthAdjust="spacingAndGlyphs">structural components. The top half of the matrix is without age adjustment</T>
        <T x={30} y={1400} fontSize={19} textLength={622} lengthAdjust="spacingAndGlyphs">(original) and the bottom half is after age adjustment. <tspan fontWeight="bold">(B)</tspan> An example of the</T>
        <T x={30} y={1424} fontSize={19} textLength={584} lengthAdjust="spacingAndGlyphs">effect of adjusting for age, where the adjustment does not remove the</T>
        <T x={30} y={1448} fontSize={19} textLength={605} lengthAdjust="spacingAndGlyphs">significant correlation between the components for s-IC73 and s-IC17. <tspan fontWeight="bold">(C)</tspan></T>
        <T x={30} y={1472} fontSize={19} textLength={608} lengthAdjust="spacingAndGlyphs">An example of the effect of adjusting for age, where the adjustment does</T>
        <T x={30} y={1496} fontSize={19} textLength={617} lengthAdjust="spacingAndGlyphs">remove the significant correlation between the components for s-IC73 and</T>
        <T x={30} y={1520} fontSize={19} textLength={47} lengthAdjust="spacingAndGlyphs">s-IC5.</T>
      </svg>
    </div>
  );
}
